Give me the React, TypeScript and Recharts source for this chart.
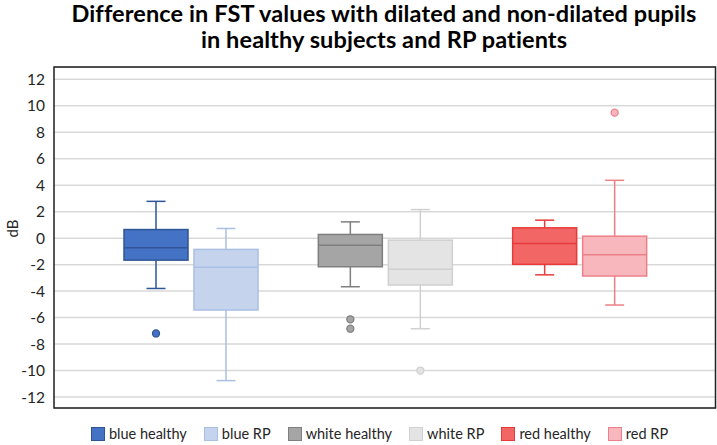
import { ComposedChart, Bar, XAxis, YAxis, CartesianGrid } from 'recharts'

// groups on the x axis, two boxes each (healthy / RP)
const CATEGORIES = ['blue', 'white', 'red']
const SERIES = ['healthy', 'RP']
const LEGEND_NAMES = ['blue healthy', 'blue RP', 'white healthy', 'white RP', 'red healthy', 'red RP']

// box statistics, order: blue healthy, blue RP, white healthy, white RP, red healthy, red RP
const WHISKER_LOW = [-3.8, -10.76, -3.67, -6.84, -2.77, -5.05]
const Q1 = [-1.66, -5.43, -2.16, -3.54, -1.98, -2.86]
const MEDIAN = [-0.73, -2.2, -0.53, -2.34, -0.4, -1.26]
const Q3 = [0.65, -0.85, 0.28, -0.15, 0.78, 0.15]
const WHISKER_HIGH = [2.78, 0.73, 1.23, 2.16, 1.36, 4.37]
const OUTLIERS: number[][] = [[-7.2], [], [-6.13, -6.84], [-10], [], [9.48]]

const Y_TICKS = [-12, -10, -8, -6, -4, -2, 0, 2, 4, 6, 8, 10, 12]

const FILLS = ['#4472c4', '#c5d4ec', '#a5a5a5', '#e4e4e4', '#f26666', '#f8b7bd']
const STROKES = ['#2f5597', '#a9bfe4', '#7f7f7f', '#d0d0d0', '#e83a3a', '#ec8088']

const FONT = 'Lato, "Open Sans", sans-serif'

const lowOf = (i: number) => Math.min(WHISKER_LOW[i], ...OUTLIERS[i])
const highOf = (i: number) => Math.max(WHISKER_HIGH[i], ...OUTLIERS[i])

const rows = CATEGORIES.map((name, gi) => {
  const row: Record<string, any> = { name }
  SERIES.forEach((s, si) => {
    const i = gi * 2 + si
    row[s] = [lowOf(i), highOf(i)]
  })
  return row
})

function BoxShape(props: any) {
  const { x, y, width, height, index, seriesIndex } = props
  const i = index * 2 + seriesIndex
  const lo = lowOf(i)
  const hi = highOf(i)
  const top = Math.min(y, y + height)
  const bot = Math.max(y, y + height)
  // linear map inside the bar's own pixel range
  const py = (v: number) => bot - ((v - lo) / (hi - lo)) * (bot - top)
  const cx = x + width / 2
  const cap = 9.5
  const stroke = STROKES[i]
  const fill = FILLS[i]
  return (
    <g>
      <line x1={cx} x2={cx} y1={py(WHISKER_HIGH[i])} y2={py(Q3[i])} stroke={stroke} strokeWidth={1.5} />
      <line x1={cx} x2={cx} y1={py(Q1[i])} y2={py(WHISKER_LOW[i])} stroke={stroke} strokeWidth={1.5} />
      <line x1={cx - cap} x2={cx + cap} y1={py(WHISKER_HIGH[i])} y2={py(WHISKER_HIGH[i])} stroke={stroke} strokeWidth={1.5} />
      <line x1={cx - cap} x2={cx + cap} y1={py(WHISKER_LOW[i])} y2={py(WHISKER_LOW[i])} stroke={stroke} strokeWidth={1.5} />
      <rect x={x} y={py(Q3[i])} width={width} height={py(Q1[i]) - py(Q3[i])} fill={fill} stroke={stroke} strokeWidth={1.5} />
      <line x1={x} x2={x + width} y1={py(MEDIAN[i])} y2={py(MEDIAN[i])} stroke={stroke} strokeWidth={1.5} />
      {OUTLIERS[i].map((v, k) => (
        <circle key={k} cx={cx} cy={py(v)} r={3.5} fill={fill} stroke={stroke} strokeWidth={1.3} />
      ))}
    </g>
  )
}

export default function App() {
  return (
    <div style={{ position: 'absolute', left: 0, top: 0, width: 717, height: 445, background: '#fff', fontFamily: FONT }}>
      <div
        style={{
          position: 'absolute',
          left: 0,
          width: 768,
          top: 0,
          textAlign: 'center',
          fontWeight: 700,
          fontSize: 23.5,
          letterSpacing: 0.1,
          lineHeight: '26px',
          color: '#000',
          whiteSpace: 'nowrap',
        }}
      >
        Difference in FST values with dilated and non-dilated pupils
        <br />
        in healthy subjects and RP patients
      </div>

      <ComposedChart width={717} height={445} data={rows} margin={{ top: 67, right: 1, bottom: 37, left: 0 }} barSize={64} barGap={6}>
        <CartesianGrid vertical={false} stroke="#d9d9d9" strokeWidth={1.5} />
        <XAxis dataKey="name" hide padding={{ left: 40, right: 39 }} />
        <YAxis
          type="number"
          domain={[-12.83, 12.93]}
          ticks={Y_TICKS}
          allowDataOverflow
          width={54}
          axisLine={false}
          tickLine={false}
          tickMargin={3}
          tick={{ fill: '#262626', fontSize: 15.5, fontFamily: FONT }}
          label={({ viewBox }: any) => (
            <text
              x={viewBox.x + 12}
              y={viewBox.y + viewBox.height / 2 - 9}
              transform={`rotate(-90, ${viewBox.x + 12}, ${viewBox.y + viewBox.height / 2 - 9})`}
              textAnchor="middle"
              dominantBaseline="central"
              fontSize={15}
              fontFamily={FONT}
              fill="#262626"
            >
              dB
            </text>
          )}
        />
        {SERIES.map((s, si) => (
          <Bar
            key={s}
            dataKey={s}
            isAnimationActive={false}
            shape={(p: any) => <BoxShape {...p} seriesIndex={si} />}
          />
        ))}
      </ComposedChart>

      <svg style={{ position: 'absolute', left: 0, top: 0, pointerEvents: 'none' }} width={717} height={445}>
        <rect x={54} y={67} width={661.5} height={341} fill="none" stroke="#1f1f1f" strokeWidth={1.5} />
      </svg>

      <div
        style={{
          position: 'absolute',
          left: 0,
          width: 759,
          top: 425,
          display: 'flex',
          justifyContent: 'center',
          gap: 17,
          fontSize: 14.5,
          color: '#262626',
          lineHeight: '18px',
        }}
      >
        {LEGEND_NAMES.map((n, i) => (
          <div key={n} style={{ display: 'flex', alignItems: 'center', gap: 4 }}>
            <span style={{ width: 12, height: 12, background: FILLS[i], border: `1px solid ${STROKES[i]}`, display: 'inline-block' }} />
            <span>{n}</span>
          </div>
        ))}
      </div>
    </div>
  )
}
